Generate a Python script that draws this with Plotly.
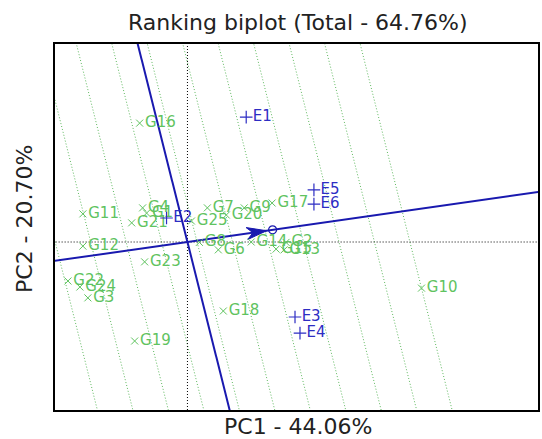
import numpy as np
import plotly.graph_objects as go

# ---- data (biplot scores) ----
genotypes = ["G1", "G2", "G3", "G4", "G6", "G7", "G8", "G9", "G10", "G11", "G12", "G13",
             "G14", "G15", "G16", "G17", "G18", "G19", "G20", "G21", "G22", "G23", "G24", "G25"]
g_pc1 = [-0.82, 1.98, -2.00, -0.90, 0.62, 0.40, 0.24, 1.14, 4.70, -2.10, -2.10, 1.94,
         1.28, 1.78, -0.96, 1.70, 0.72, -1.06, 0.78, -1.12, -2.40, -0.86, -2.16, 0.08]
g_pc2 = [0.77, -0.01, -1.49, 0.91, -0.21, 0.91, -0.01, 0.91, -1.23, 0.75, -0.11, -0.21,
         0.00, -0.19, 3.17, 1.04, -1.84, -2.64, 0.72, 0.51, -1.04, -0.53, -1.20, 0.56]

environments = ["E1", "E2", "E3", "E4", "E5", "E6"]
e_pc1 = [1.18, -0.42, 2.16, 2.26, 2.54, 2.54]
e_pc2 = [3.33, 0.64, -2.00, -2.43, 1.39, 1.01]

# positions of ranking lines along the average-environment axis
rank_positions = [-2.61, -1.91, -1.21, -0.51, 0.19, 0.89, 1.59, 2.29, 2.99, 3.69, 4.39]

title_text = "Ranking biplot (Total - 64.76%)"
x_title = "PC1 - 44.06%"
y_title = "PC2 - 20.70%"

# ---- layout constants ----
W, H = 542, 439
ML, MR, MT, MB = 55, 2, 44, 29
XR = [-2.66, 7.04]
YR = [-4.48, 5.28]
SX = (W - ML - MR) / (XR[1] - XR[0])
SY = (H - MT - MB) / (YR[1] - YR[0])

green = "rgb(95,195,95)"
green_line = "rgb(95,185,95)"
blue_line = "rgb(25,25,175)"
blue_txt = "rgb(45,45,195)"

m = np.array([np.mean(e_pc1), np.mean(e_pc2)])
u = m / np.linalg.norm(m)
n = np.array([-u[1], u[0]])
S = np.array([-30.0, 30.0])

fig = go.Figure()

# ranking lines (perpendicular to AEC)
for t in rank_positions:
    pts = t * u[None, :] + S[:, None] * n[None, :]
    fig.add_trace(go.Scatter(x=pts[:, 0], y=pts[:, 1], mode="lines",
                             line=dict(color=green_line, width=1, dash="1px,2px"),
                             hoverinfo="skip", showlegend=False))

# origin dotted axes
fig.add_trace(go.Scatter(x=[0, 0], y=[-30, 30], mode="lines",
                         line=dict(color="black", width=1, dash="1px,2px"), showlegend=False))
fig.add_trace(go.Scatter(x=[-30, 30], y=[0, 0], mode="lines",
                         line=dict(color="black", width=1, dash="1px,2px"), showlegend=False))

# AEC abscissa and ordinate
a = S[:, None] * u[None, :]
fig.add_trace(go.Scatter(x=a[:, 0], y=a[:, 1], mode="lines",
                         line=dict(color=blue_line, width=2), showlegend=False))
o = S[:, None] * n[None, :]
fig.add_trace(go.Scatter(x=o[:, 0], y=o[:, 1], mode="lines",
                         line=dict(color=blue_line, width=2), showlegend=False))

# arrow head (computed in pixel space)
def to_px(p):
    return np.array([p[0] * SX, -p[1] * SY])

def to_data(p):
    return np.array([p[0] / SX, -p[1] / SY])

C = to_px(m)
d = C / np.linalg.norm(C)
pp = np.array([-d[1], d[0]])
tip = C - 6 * d
head = [tip, tip - 20 * d + 6 * pp, tip - 14 * d, tip - 20 * d - 6 * pp, tip]
head = np.array([to_data(h) for h in head])
fig.add_trace(go.Scatter(x=head[:, 0], y=head[:, 1], mode="lines", fill="toself",
                         fillcolor=blue_line, line=dict(color=blue_line, width=1),
                         showlegend=False))
fig.add_trace(go.Scatter(x=[m[0]], y=[m[1]], mode="markers",
                         marker=dict(symbol="circle-open", size=8,
                                     line=dict(color=blue_line, width=1.2), color=blue_line),
                         showlegend=False))

# genotypes
fig.add_trace(go.Scatter(x=g_pc1, y=g_pc2, mode="markers+text", text=genotypes,
                         textposition="middle right",
                         textfont=dict(family="DejaVu Sans", size=15, color=green),
                         marker=dict(symbol="x-thin", size=7, line=dict(color=green, width=1)),
                         showlegend=False))
# environments
fig.add_trace(go.Scatter(x=e_pc1, y=e_pc2, mode="markers+text", text=environments,
                         textposition="middle right",
                         textfont=dict(family="DejaVu Sans", size=15, color=blue_txt),
                         marker=dict(symbol="cross-thin", size=9, line=dict(color=blue_txt, width=1.2)),
                         showlegend=False))

axis_common = dict(showgrid=False, zeroline=False, showticklabels=False, ticks="",
                   showline=True, linecolor="black", linewidth=2, mirror=True)
fig.update_layout(
    width=W, height=H,
    margin=dict(l=ML, r=MR, t=MT, b=MB),
    paper_bgcolor="white", plot_bgcolor="white",
    xaxis=dict(range=XR, **axis_common),
    yaxis=dict(range=YR, **axis_common),
    showlegend=False,
    annotations=[
        dict(text=title_text, x=0.503, y=1.058, xref="paper", yref="paper",
             xanchor="center", yanchor="middle", showarrow=False,
             font=dict(family="DejaVu Sans", size=22, color="#222")),
        dict(text=x_title, x=0.503, y=-0.045, xref="paper", yref="paper",
             xanchor="center", yanchor="middle", showarrow=False,
             font=dict(family="DejaVu Sans", size=22, color="#222")),
        dict(text=y_title, x=-0.062, y=0.522, xref="paper", yref="paper",
             xanchor="center", yanchor="middle", showarrow=False, textangle=-90,
             font=dict(family="DejaVu Sans", size=22, color="#222")),
    ],
)

fig.write_html("out.html", config={"displayModeBar": False})

# remove the default page margin so the figure sits at the window's corner
with open("out.html", "r", encoding="utf-8") as f:
    html = f.read()
html = html.replace("<head>", "<head><style>html,body{margin:0;padding:0;overflow:hidden}</style>", 1)
with open("out.html", "w", encoding="utf-8") as f:
    f.write(html)
